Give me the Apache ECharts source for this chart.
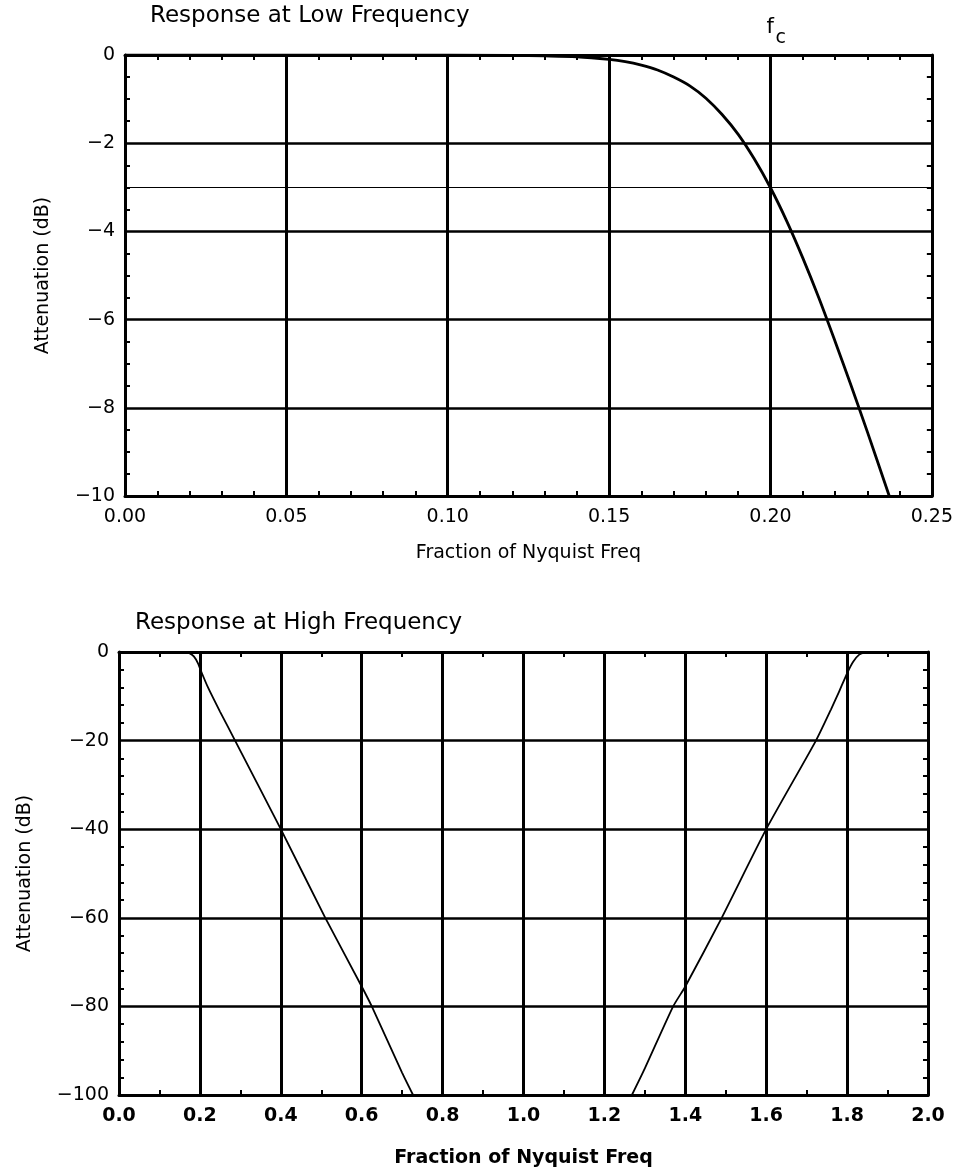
<!DOCTYPE html>
<html>
<head>
<meta charset="utf-8">
<script src="https://cdn.jsdelivr.net/npm/echarts@6/dist/echarts.min.js"></script>
<style>
  html, body { margin: 0; padding: 0; background: #fff; }
  #chart { width: 956px; height: 1174px; }
</style>
</head>
<body>
<div id="chart"></div>
<script>
// ---- Data ----
const lowFreq  = [0, 0.05, 0.10, 0.12, 0.13, 0.14, 0.15, 0.155, 0.16, 0.165, 0.17, 0.175, 0.18, 0.185, 0.19, 0.195, 0.20, 0.205, 0.21, 0.215, 0.22, 0.225, 0.23, 0.2368];
const lowAtten = [0, 0, 0, -0.01, -0.02, -0.04, -0.10, -0.15, -0.23, -0.34, -0.50, -0.70, -0.98, -1.35, -1.80, -2.36, -3.01, -3.76, -4.60, -5.51, -6.49, -7.50, -8.54, -10];

const highFreqLeft  = [0, 0.10, 0.16, 0.175, 0.185, 0.195, 0.205, 0.22, 0.25, 0.287, 0.40, 0.51, 0.60, 0.625, 0.70, 0.727];
const highAttenLeft = [0, 0, 0, -0.3, -1, -2.5, -4.8, -8, -13.5, -20, -40, -60, -75.5, -80, -95, -100];

const highFreqRight  = [1.268, 1.30, 1.37, 1.40, 1.49, 1.60, 1.723, 1.76, 1.78, 1.80, 1.815, 1.83, 1.845, 1.86, 2.0];
const highAttenRight = [-100, -94, -80, -75.5, -60, -40, -20, -13, -9, -4.8, -2.2, -0.6, -0.1, 0, 0];

const lowCutoffLevel = -3;
const lowCutoffFreq = 0.2;

const titles = ['Response at Low Frequency', 'Response at High Frequency'];
const xName = 'Fraction of Nyquist Freq';
const yName = 'Attenuation (dB)';

// ---- Chart ----
const FONT = 'DejaVu Sans';
const zip = (xs, ys) => xs.map((x, i) => [x, ys[i]]);
const minusFmt = v => (v < 0 ? '\u2212' + Math.abs(v) : String(v));

function xAxes(gridIndex, min, max, interval, minorSplit, decimals, bold, nameGap) {
  const common = {
    type: 'value', gridIndex, min, max, interval,
    axisLine: { show: true, onZero: false, lineStyle: { color: '#000', width: 3 } },
    axisTick: { show: false, inside: true },
    minorTick: { show: true, splitNumber: minorSplit, length: 5, lineStyle: { color: '#000', width: 2 } },
    minorSplitLine: { show: false }
  };
  return [
    Object.assign({}, common, {
      position: 'bottom',
      name: xName, nameLocation: 'middle', nameGap: nameGap,
      nameTextStyle: { fontFamily: FONT, fontSize: 19, color: '#000', fontWeight: bold ? 'bold' : 'normal' },
      axisLabel: { show: true, margin: 12, color: '#000', fontFamily: FONT, fontSize: 19, fontWeight: bold ? 'bold' : 'normal',
                   formatter: v => v.toFixed(decimals) },
      splitLine: { show: true, lineStyle: { color: '#000', width: 3 } }
    }),
    Object.assign({}, common, {
      position: 'top',
      axisLabel: { show: false },
      splitLine: { show: false }
    })
  ];
}

function yAxes(gridIndex, min, max, interval, minorSplit, nameGap) {
  const common = {
    type: 'value', gridIndex, min, max, interval,
    axisLine: { show: true, onZero: false, lineStyle: { color: '#000', width: 3 } },
    axisTick: { show: false, inside: true },
    minorTick: { show: true, splitNumber: minorSplit, length: 5, lineStyle: { color: '#000', width: 2 } },
    minorSplitLine: { show: false }
  };
  return [
    Object.assign({}, common, {
      position: 'left',
      name: yName, nameLocation: 'middle', nameGap: nameGap, nameRotate: 90,
      nameTextStyle: { fontFamily: FONT, fontSize: 19, color: '#000' },
      axisLabel: { show: true, margin: 10, color: '#000', fontFamily: FONT, fontSize: 19, formatter: minusFmt },
      splitLine: { show: true, lineStyle: { color: '#000', width: 2.5 } }
    }),
    Object.assign({}, common, {
      position: 'right',
      axisLabel: { show: false },
      splitLine: { show: false }
    })
  ];
}

const chart = echarts.init(document.getElementById('chart'), null, { renderer: 'canvas' });

const option = {
  backgroundColor: '#fff',
  animation: false,
  title: [
    { text: titles[0], left: 150, top: 5, padding: 0, textStyle: { fontFamily: FONT, fontSize: 23, fontWeight: 'normal', color: '#000' } },
    { text: titles[1], left: 135, top: 612, padding: 0, textStyle: { fontFamily: FONT, fontSize: 23, fontWeight: 'normal', color: '#000' } }
  ],
  grid: [
    { left: 125, top: 55, width: 808, height: 441 },
    { left: 119, top: 652, width: 809, height: 443 }
  ],
  xAxis: [].concat(
    xAxes(0, 0, 0.25, 0.05, 5, 2, false, 48),
    xAxes(1, 0, 2, 0.2, 2, 1, true, 54)
  ),
  yAxis: [].concat(
    yAxes(0, -10, 0, 2, 4, 72),
    yAxes(1, -100, 0, 20, 5, 84)
  ),
  series: [
    {
      type: 'line', xAxisIndex: 0, yAxisIndex: 0, data: zip(lowFreq, lowAtten),
      showSymbol: false, smooth: 0.3, lineStyle: { color: '#000', width: 2.8 }, silent: true,
      markLine: {
        silent: true, symbol: 'none', label: { show: false },
        lineStyle: { color: '#000', width: 1.2, type: 'solid' },
        data: [{ yAxis: lowCutoffLevel }]
      }
    },
    {
      type: 'line', xAxisIndex: 2, yAxisIndex: 2, data: zip(highFreqLeft, highAttenLeft),
      showSymbol: false, smooth: 0.2, lineStyle: { color: '#000', width: 1.8 }, silent: true
    },
    {
      type: 'line', xAxisIndex: 2, yAxisIndex: 2, data: zip(highFreqRight, highAttenRight),
      showSymbol: false, smooth: 0.2, lineStyle: { color: '#000', width: 1.8 }, silent: true
    }
  ]
};
chart.setOption(option);

// f_c label above the cutoff frequency
const fcX = chart.convertToPixel({ xAxisIndex: 0 }, lowCutoffFreq);
chart.setOption({
  graphic: [
    { type: 'text', left: fcX - 4, top: 17, style: { text: 'f', fontFamily: FONT, fontSize: 21, fill: '#000' } },
    { type: 'text', left: fcX + 5, top: 29, style: { text: 'c', fontFamily: FONT, fontSize: 19, fill: '#000' } }
  ]
});
</script>
</body>
</html>
